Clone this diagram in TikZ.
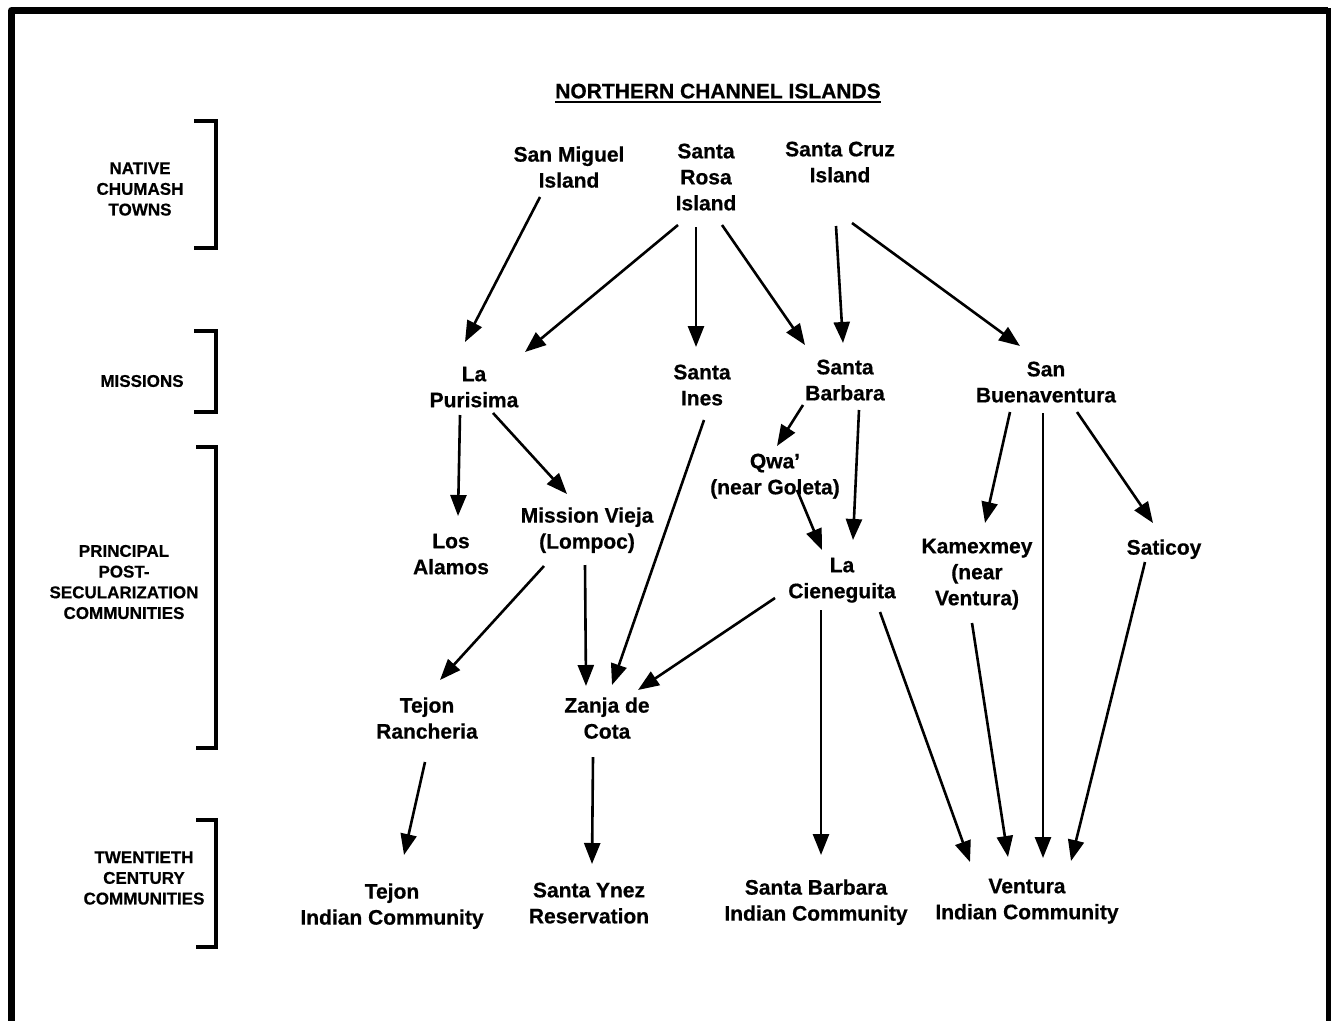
\documentclass[tikz,border=0pt]{standalone}
\usepackage{fontspec}
\setmainfont{Liberation Sans}[BoldFeatures={FakeBold=0.6}]
\usetikzlibrary{arrows.meta}
\begin{document}
\begin{tikzpicture}[x=1pt,y=-1pt,
  lbl/.style={align=center,inner sep=0pt,text depth=0pt,font=\bfseries\fontsize{21}{26}\selectfont},
  side/.style={align=center,inner sep=0pt,font=\bfseries\fontsize{17}{20.7}\selectfont},
  arr/.style={line width=2.6pt,-{Triangle[length=21pt,width=16pt]}},
  brk/.style={line width=4pt,line cap=butt,line join=miter},
  frm/.style={line width=7pt,line cap=butt,line join=round}]
\useasboundingbox (0,0) rectangle (1332,1020);
% frame
\draw[frm] (11.5,1030) -- (11.5,10.5) -- (1328,10.5);
\draw[line width=5pt] (1328.5,8) -- (1328.5,1030);
% title
\node[lbl] (title) at (718,91) {NORTHERN CHANNEL ISLANDS};
\draw[line width=2pt] ([yshift=-3pt]title.south west) -- ([yshift=-3pt]title.south east);
% side labels
\node[side] (ln1) at (140,189) {NATIVE\\CHUMASH\\TOWNS};
\node[side] (ln2) at (142,381) {MISSIONS};
\node[side] (ln3) at (124,582) {PRINCIPAL\\POST-\\SECULARIZATION\\COMMUNITIES};
\node[side] (ln4) at (144,878) {TWENTIETH\\CENTURY\\COMMUNITIES};
% brackets
\draw[brk] (194,121) -- (216,121) -- (216,248) -- (194,248);
\draw[brk] (194,331) -- (216,331) -- (216,412) -- (194,412);
\draw[brk] (196,447) -- (216,447) -- (216,748) -- (196,748);
\draw[brk] (196,820) -- (216,820) -- (216,947) -- (196,947);
% nodes
\node[lbl] (smi) at (569,167) {San Miguel\\Island};
\node[lbl] (sri) at (706,177) {Santa\\Rosa\\Island};
\node[lbl] (sci) at (840,162) {Santa Cruz\\Island};
\node[lbl] (lpu) at (474,387) {La\\Purisima};
\node[lbl] (sin) at (702,385) {Santa\\Ines};
\node[lbl] (sba) at (845,380) {Santa\\Barbara};
\node[lbl] (sbu) at (1046,382) {San\\Buenaventura};
\node[lbl] (qwa) at (775,474) {Qwa’\\(near Goleta)};
\node[lbl] (lal) at (451,554) {Los\\Alamos};
\node[lbl] (mvi) at (587,528) {Mission Vieja\\(Lompoc)};
\node[lbl] (lci) at (842,578) {La\\Cieneguita};
\node[lbl] (kam) at (977,572) {Kamexmey\\(near\\Ventura)};
\node[lbl] (sat) at (1164,547) {Saticoy};
\node[lbl] (tra) at (427,718) {Tejon\\Rancheria};
\node[lbl] (zdc) at (607,718) {Zanja de\\Cota};
\node[lbl] (tic) at (392,904) {Tejon\\Indian Community};
\node[lbl] (syr) at (589,903) {Santa Ynez\\Reservation};
\node[lbl] (sbic) at (816,900) {Santa Barbara\\Indian Community};
\node[lbl] (vic) at (1027,899) {Ventura\\Indian Community};
% connectors
\draw[arr] ([shift={(-29,30)}]smi.center) -- ([shift={(-9,-45)}]lpu.center);
\draw[arr] ([shift={(-28,48)}]sri.center) -- ([shift={(51,-35)}]lpu.center);
\draw[arr] ([shift={(-10,50)}]sri.center) -- ([shift={(-6,-38)}]sin.center);
\draw[arr] ([shift={(16,48)}]sri.center) -- ([shift={(-40,-35)}]sba.center);
\draw[arr] ([shift={(-4,64)}]sci.center) -- ([shift={(-2,-37)}]sba.center);
\draw[arr] ([shift={(12,61)}]sci.center) -- ([shift={(-26,-36)}]sbu.center);
\draw[arr] ([shift={(-14,28)}]lpu.center) -- ([shift={(7,-38)}]lal.center);
\draw[arr] ([shift={(19,26)}]lpu.center) -- ([shift={(-20,-34)}]mvi.center);
\draw[arr] ([shift={(2,35)}]sin.center) -- ([shift={(5,-33)}]zdc.center);
\draw[arr] ([shift={(-42,25)}]sba.center) -- ([shift={(2,-28)}]qwa.center);
\draw[arr] ([shift={(14,30)}]sba.center) -- ([shift={(11,-38)}]lci.center);
\draw[arr] ([shift={(22,16)}]qwa.center) -- ([shift={(-20,-28)}]lci.center);
\draw[arr] ([shift={(-36,30)}]sbu.center) -- ([shift={(8,-49)}]kam.center);
\draw[arr] ([shift={(-3,31)}]sbu.center) -- ([shift={(16,-41)}]vic.center);
\draw[arr] ([shift={(31,30)}]sbu.center) -- ([shift={(-11,-24)}]sat.center);
\draw[arr] ([shift={(-43,38)}]mvi.center) -- ([shift={(13,-38)}]tra.center);
\draw[arr] ([shift={(-2,37)}]mvi.center) -- ([shift={(-21,-32)}]zdc.center);
\draw[arr] ([shift={(-67,20)}]lci.center) -- ([shift={(31,-28)}]zdc.center);
\draw[arr] ([shift={(-21,32)}]lci.center) -- ([shift={(5,-45)}]sbic.center);
\draw[arr] ([shift={(38,34)}]lci.center) -- ([shift={(-57,-37)}]vic.center);
\draw[arr] ([shift={(-5,51)}]kam.center) -- ([shift={(-19,-42)}]vic.center);
\draw[arr] ([shift={(-19,15)}]sat.center) -- ([shift={(44,-38)}]vic.center);
\draw[arr] ([shift={(-2,44)}]tra.center) -- ([shift={(12,-49)}]tic.center);
\draw[arr] ([shift={(-14,39)}]zdc.center) -- ([shift={(3,-39)}]syr.center);
\end{tikzpicture}
\end{document}
